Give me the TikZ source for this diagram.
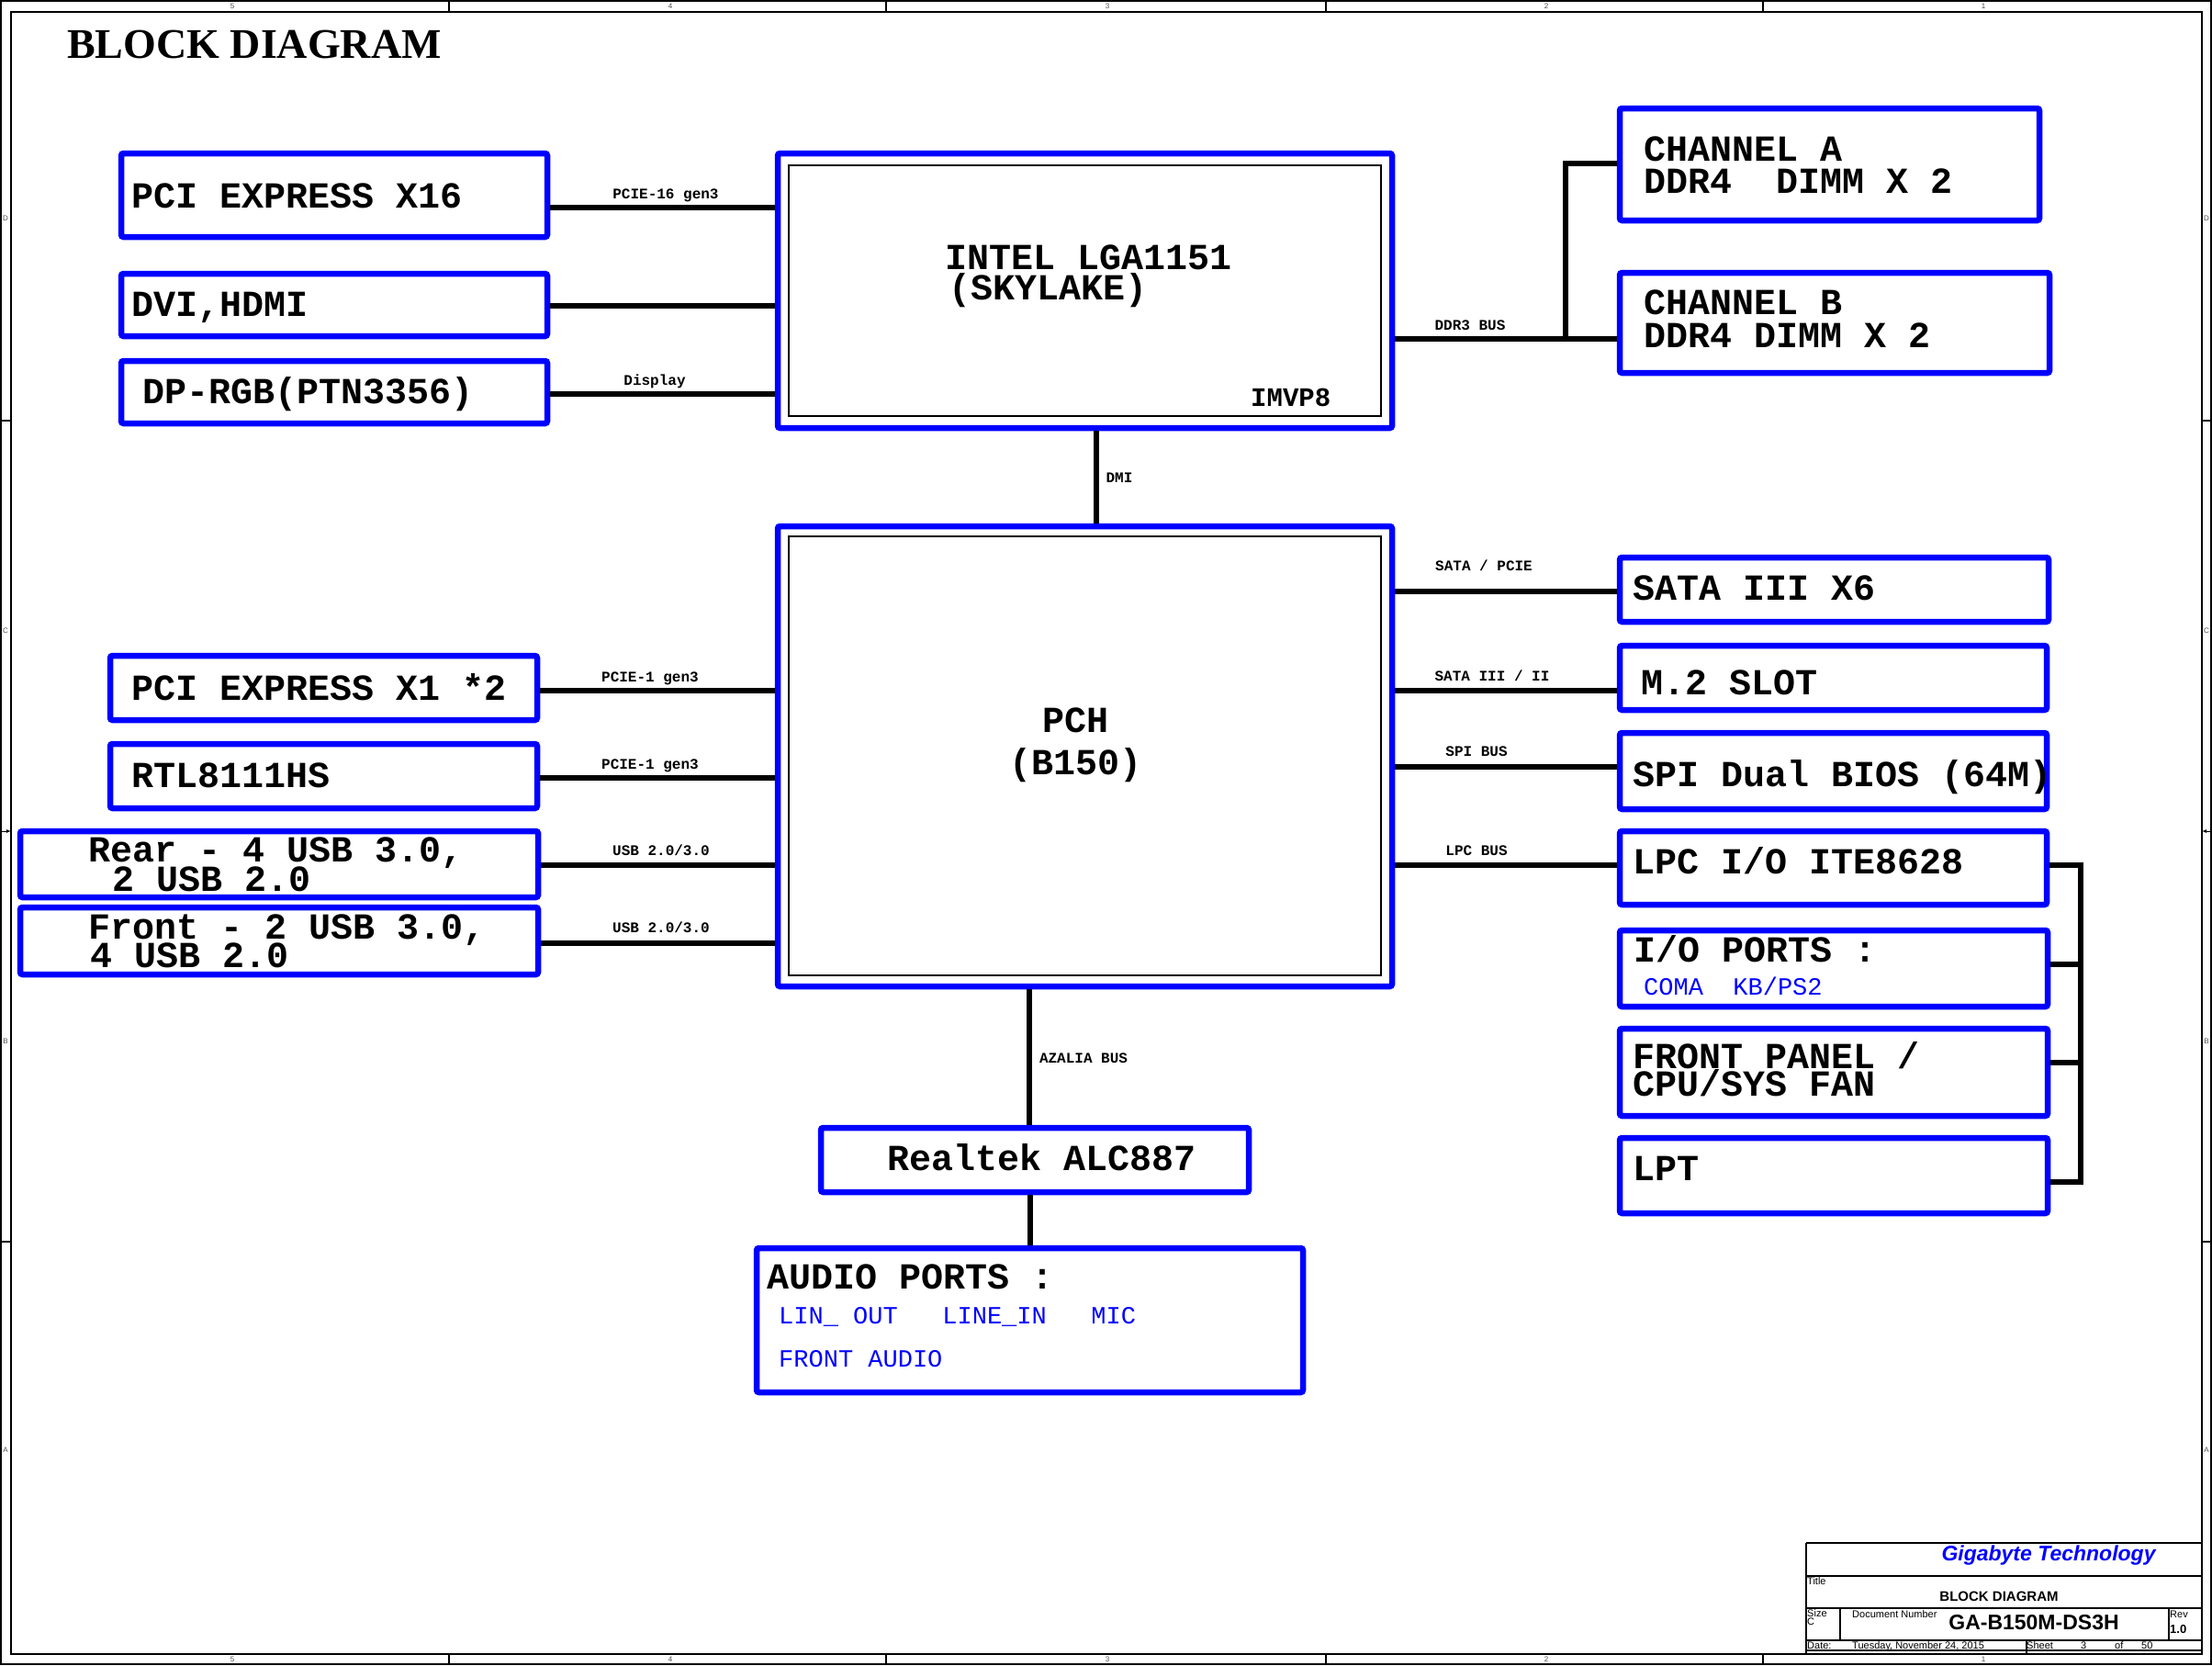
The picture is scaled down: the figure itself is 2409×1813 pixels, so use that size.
\documentclass[tikz,border=0pt]{standalone}
\usepackage{fontspec}
\usetikzlibrary{arrows.meta}
\newfontfamily\courf{Liberation Mono}
\newfontfamily\arialf{Liberation Sans}
\newfontfamily\seriff{Liberation Serif}
\definecolor{pblue}{RGB}{0,0,255}
\newcommand\blk[6][box]{\node[#1,anchor=center,minimum width={#5-#3},minimum height={#6-#4}] (#2) at ({(#3+#5)/2},{(#4+#6)/2}) {};}
\begin{document}
\begin{tikzpicture}[x=1pt,y=-1pt,
  box/.style={draw=pblue,line width=6.5pt,rounded corners=2.5pt,inner sep=0pt},
  inbox/.style={draw=black,line width=1.5pt,inner sep=0pt,outer sep=0pt},
  bus/.style={draw=black,line width=6.5pt},
  lab/.style={anchor=base west,inner sep=0pt,font=\courf\bfseries\fontsize{40}{40}\selectfont},
  labc/.style={lab,anchor=base},
  sml/.style={anchor=base,inner sep=0pt,font=\courf\bfseries\fontsize{16}{16}\selectfont},
  sub/.style={anchor=base west,inner sep=0pt,text=pblue,font=\courf\fontsize{27}{27}\selectfont},
  frm/.style={draw=black,line width=2pt},
  tb/.style={draw=black,line width=1.5pt},
  tiny/.style={inner sep=0pt,font=\arialf\fontsize{8}{8}\selectfont,text=black!70},
  tbs/.style={anchor=base west,inner sep=0pt,font=\arialf\fontsize{11}{11}\selectfont},
]
\useasboundingbox (0,0) rectangle (2409,1813);
% ---------- frame ----------
\draw[frm] (1,1) rectangle (2408,1812);
\draw[frm] (12,13) rectangle (2398,1801);
\foreach \x in {489,965,1444,1920} {\draw[frm] (\x,1) -- (\x,13); \draw[frm] (\x,1801) -- (\x,1812);}
\foreach \y in {458,1352} {\draw[frm] (1,\y) -- (12,\y); \draw[frm] (2398,\y) -- (2408,\y);}
\draw[line width=1pt,-{Latex[length=5pt,width=4pt]}] (1,905) -- (12,905);
\draw[line width=1pt,-{Latex[length=5pt,width=4pt]}] (2408,905) -- (2398,905);
\foreach \n/\x in {5/253,4/730,3/1206,2/1684,1/2160} {\node[tiny] (nt\n) at (\x,7) {\n}; \node[tiny] (nb\n) at (\x,1807) {\n};}
\foreach \l/\y in {D/238,C/687,B/1134,A/1579} {\node[tiny] (ll\l) at (6,\y) {\l}; \node[tiny] (lr\l) at (2403,\y) {\l};}
% ---------- title ----------
\node[anchor=base west,inner sep=0pt,font=\seriff\bfseries\fontsize{46}{46}\selectfont] (title) at (73,63) {BLOCK DIAGRAM};
% ---------- boxes ----------
\blk{pcie16}{132}{167}{596}{258}
\blk{dvi}{132}{298}{596}{366}
\blk{dp}{132}{393}{596}{461}
\blk{cpu}{847}{167}{1516}{466}
\blk[inbox]{cpuin}{859}{180}{1504}{453}
\blk{chA}{1764}{118}{2221}{240}
\blk{chB}{1764}{297}{2232}{406}
\blk{pch}{847}{573}{1516}{1074}
\blk[inbox]{pchin}{859}{584}{1504}{1062}
\blk{pcie1}{120}{714}{585}{784}
\blk{rtl}{120}{810}{585}{880}
\blk{rear}{22}{905}{586}{977}
\blk{front}{22}{988}{586}{1061}
\blk{sata}{1764}{607}{2231}{677}
\blk{mtwo}{1764}{703}{2229}{773}
\blk{spi}{1764}{798}{2229}{881}
\blk{lpc}{1764}{905}{2229}{985}
\blk{io}{1764}{1013}{2230}{1096}
\blk{fp}{1764}{1120}{2230}{1215}
\blk{lpt}{1764}{1239}{2230}{1321}
\blk{rtk}{894}{1228}{1360}{1298}
\blk{aud}{824}{1359}{1419}{1516}
% ---------- connectors ----------
\draw[bus] (pcie16.east |- 0,226) -- (cpu.west |- 0,226);
\draw[bus] (dvi.east |- 0,333) -- (cpu.west |- 0,333);
\draw[bus] (dp.east |- 0,429) -- (cpu.west |- 0,429);
\coordinate (ddrt) at (1705,178);
\coordinate (ddrb) at (1705,369);
\draw[bus] (cpu.east |- ddrb) -- (chB.west |- ddrb);
\draw[bus] (chA.west |- ddrt) -- (ddrt) -- (ddrb);
\draw[bus] (cpu.south -| 1194,0) -- (pch.north -| 1194,0);
\draw[bus] (pcie1.east |- 0,752) -- (pch.west |- 0,752);
\draw[bus] (rtl.east |- 0,847) -- (pch.west |- 0,847);
\draw[bus] (rear.east |- 0,942) -- (pch.west |- 0,942);
\draw[bus] (front.east |- 0,1027) -- (pch.west |- 0,1027);
\draw[bus] (pch.east |- 0,644) -- (sata.west |- 0,644);
\draw[bus] (pch.east |- 0,752) -- (mtwo.west |- 0,752);
\draw[bus] (pch.east |- 0,835) -- (spi.west |- 0,835);
\draw[bus] (pch.east |- 0,942) -- (lpc.west |- 0,942);
\coordinate (lpct) at (2266,942);
\coordinate (lpcb) at (2266,1287);
\draw[bus] (lpc.east |- lpct) -- (lpct) -- (lpcb) -- (lpt.east |- lpcb);
\draw[bus] (io.east |- 0,1050) -- (lpct |- 0,1050);
\draw[bus] (fp.east |- 0,1157) -- (lpct |- 0,1157);
\draw[bus] (pch.south -| 1121,0) -- (rtk.north -| 1121,0);
\draw[bus] (rtk.south -| 1122,0) -- (aud.north -| 1122,0);
% ---------- box texts ----------
\node[lab] (tpcie16) at (143,226) {PCI EXPRESS X16};
\node[lab] (tdvi) at (143,344) {DVI,HDMI};
\node[lab] (tdp) at (155,439) {DP-RGB(PTN3356)};
\node[lab] (tcpu1) at (1029,293) {INTEL LGA1151};
\node[lab] (tcpu2) at (1033,326) {(SKYLAKE)};
\node[lab,font=\courf\bfseries\fontsize{29}{29}\selectfont] (timvp) at (1362,442) {IMVP8};
\node[lab] (tcha1) at (1790,175) {CHANNEL A};
\node[lab] (tcha2) at (1790,210) {DDR4\ \ DIMM X 2};
\node[lab] (tchb1) at (1790,342) {CHANNEL B};
\node[lab] (tchb2) at (1790,378) {DDR4 DIMM X 2};
\node[labc] (tpch1) at (1171,797) {PCH};
\node[labc] (tpch2) at (1171,843) {(B150)};
\node[lab] (tpcie1) at (143,762) {PCI EXPRESS X1 *2};
\node[lab] (trtl) at (143,857) {RTL8111HS};
\node[lab] (trear1) at (96,938) {Rear - 4 USB 3.0,};
\node[lab] (trear2) at (122,970) {2 USB 2.0};
\node[lab] (tfront1) at (96,1022) {Front - 2 USB 3.0,};
\node[lab] (tfront2) at (98,1053) {4 USB 2.0};
\node[lab] (tsata) at (1778,653) {SATA III X6};
\node[lab] (tm2) at (1787,756) {M.2 SLOT};
\node[lab] (tspi) at (1778,856) {SPI Dual BIOS (64M)};
\node[lab] (tlpc) at (1778,951) {LPC I/O ITE8628};
\node[lab] (tio) at (1779,1047) {I/O PORTS :};
\node[sub] (tio2) at (1790,1083) {COMA\ \ KB/PS2};
\node[lab] (tfp1) at (1778,1163) {FRONT PANEL /};
\node[lab] (tfp2) at (1778,1193) {CPU/SYS FAN};
\node[lab] (tlpt) at (1778,1285) {LPT};
\node[lab] (trtk) at (966,1274) {Realtek ALC887};
\node[lab] (taud) at (835,1403) {AUDIO PORTS :};
\node[sub] (taud2) at (848,1441) {LIN\_ OUT\ \ \ LINE\_IN\ \ \ MIC};
\node[sub] (taud3) at (848,1488) {FRONT AUDIO};
% ---------- bus labels ----------
\node[sml] (l1) at (725,216) {PCIE-16 gen3};
\node[sml] (l2) at (713,419) {Display};
\node[sml] (l3) at (1601,359) {DDR3 BUS};
\node[sml] (l4) at (1219,525) {DMI};
\node[sml] (l5) at (1616,621) {SATA / PCIE};
\node[sml] (l6) at (1625,741) {SATA III / II};
\node[sml] (l7) at (1608,823) {SPI BUS};
\node[sml] (l8) at (1608,931) {LPC BUS};
\node[sml] (l9) at (708,742) {PCIE-1 gen3};
\node[sml] (l10) at (708,837) {PCIE-1 gen3};
\node[sml] (l11) at (720,931) {USB 2.0/3.0};
\node[sml] (l12) at (720,1015) {USB 2.0/3.0};
\node[sml] (l13) at (1180,1157) {AZALIA BUS};
% ---------- title block ----------
\draw[tb] (1967,1680) -- (2398,1680);
\draw[tb] (1967,1680) -- (1967,1801);
\draw[tb] (1967,1716) -- (2398,1716);
\draw[line width=2.5pt] (1967,1751) -- (2398,1751);
\draw[line width=2.5pt] (1967,1786) -- (2398,1786);
\draw[tb] (2004,1751) -- (2004,1786);
\draw[tb] (2362,1751) -- (2362,1786);
\draw[tb] (2207,1786) -- (2207,1801);
\draw[tb] (1967,1797) -- (2398,1797);
\node[anchor=base,inner sep=0pt,text=pblue,font=\arialf\bfseries\itshape\fontsize{23}{23}\selectfont] (tbco) at (2231,1699) {Gigabyte Technology};
\node[tbs] (tbt) at (1968,1725) {Title};
\node[anchor=base,inner sep=0pt,font=\arialf\bfseries\fontsize{15}{15}\selectfont] (tbtitle) at (2177,1743) {BLOCK DIAGRAM};
\node[tbs] (tbsz) at (1968,1760) {Size};
\node[tbs] (tbc) at (1968,1769) {C};
\node[tbs] (tbdn) at (2017,1761) {Document Number};
\node[anchor=base,inner sep=0pt,font=\arialf\bfseries\fontsize{23}{23}\selectfont] (tbnum) at (2215,1774) {GA-B150M-DS3H};
\node[tbs] (tbrev) at (2363,1761) {Rev};
\node[tbs,font=\arialf\bfseries\fontsize{13}{13}\selectfont] (tbrv) at (2363,1778) {1.0};
\node[tbs] (tbdate) at (1968,1795) {Date:};
\node[tbs] (tbd) at (2017,1795) {Tuesday, November 24, 2015};
\node[tbs] (tbsh) at (2207,1795) {Sheet};
\node[tbs] (tbs3) at (2266,1795) {3};
\node[tbs] (tbof) at (2303,1795) {of};
\node[tbs] (tb50) at (2332,1795) {50};
\end{tikzpicture}
\end{document}
